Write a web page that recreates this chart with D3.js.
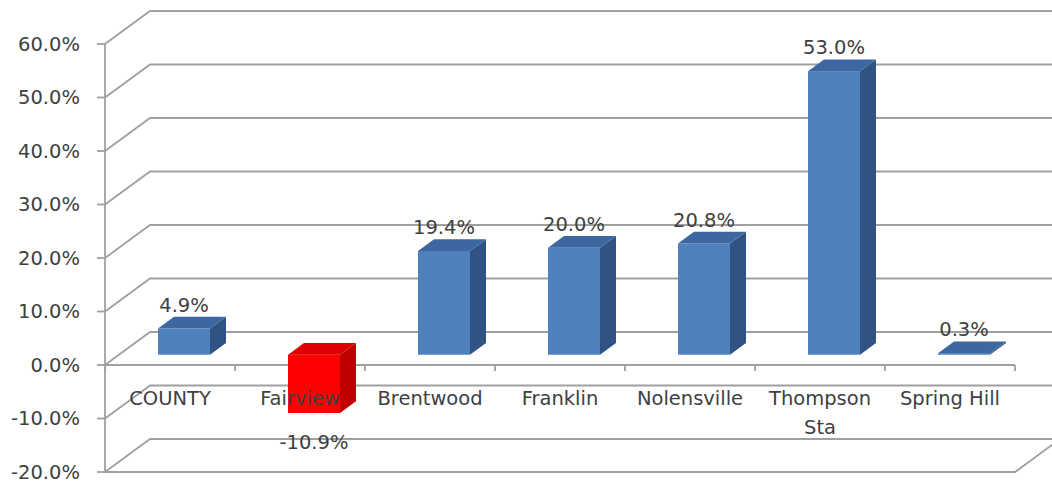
<!DOCTYPE html>
<html><head><meta charset="utf-8">
<script src="https://cdnjs.cloudflare.com/ajax/libs/d3/7.8.5/d3.min.js"></script>
<style>html,body{margin:0;padding:0;background:#fff;overflow:hidden}</style>
</head><body>
<svg id="c" width="1052" height="483"></svg>
<script>
const categories = ["COUNTY","Fairview","Brentwood","Franklin","Nolensville","Thompson Sta","Spring Hill"];
const values = [0.049,-0.109,0.194,0.200,0.208,0.530,0.003];
const highlight = ["Fairview"];
const yTicks = [-0.2,-0.1,0,0.1,0.2,0.3,0.4,0.5,0.6];

const svg = d3.select("#c");
const font = "DejaVu Sans";
const fs = 19.5;
const textColor = "#404040";
const gridColor = "#a0a0a0";

const y = d3.scaleLinear().domain([-0.2,0.6]).range([472,44]);
const x = d3.scaleBand().domain(categories).range([105,1015]).paddingInner(0).paddingOuter(0);
const bw = x.bandwidth();
// wall depth vector
const DX = 45, DY = -33;
const k = DY/DX;
const fmt0 = d3.format(".1%");
const fmt = v => fmt0(v).replace("\u2212","-");

// walls / gridlines
const g = svg.append("g").attr("stroke",gridColor).attr("stroke-width",1.8).attr("fill","none");
yTicks.forEach(t => {
  const yy = y(t);
  g.append("path").attr("d",`M105,${yy}L${105+DX},${yy+DY}L${1015+DX},${yy+DY}`);
});
// floor front edge
g.append("path").attr("d",`M105,${y(-0.2)}L1015,${y(-0.2)}L${1015+DX},${y(-0.2)+DY}`);
// left axis line
g.append("line").attr("x1",105).attr("x2",105).attr("y1",y(0.6)).attr("y2",y(-0.2));

// y ticks + labels
yTicks.forEach(t => {
  g.append("line").attr("x1",97).attr("x2",105).attr("y1",y(t)).attr("y2",y(t));
  svg.append("text").attr("x",80).attr("y",y(t)).attr("dy","0.35em")
    .attr("text-anchor","end").attr("font-family",font).attr("font-size",fs)
    .attr("fill",textColor).text(fmt(t));
});

// bars
const f0 = 14, bd = 16; // front depth offset & bar depth (x units)
const bars = svg.append("g");
categories.forEach((c,i) => {
  const v = values[i];
  const red = highlight.includes(c);
  const cf = red ? "#ff0000" : "#4f81bd";
  const cs = red ? "#c00000" : "#2f5382";
  const ct = red ? "#dc0000" : "#3c67a0";
  const x0 = x(c) + bw*0.3 + f0, x1 = x0 + bw*0.4;
  const oy = k*f0;
  const top = y(Math.max(v,0)) + oy, bot = y(Math.min(v,0)) + oy;
  const bx = bd, by = k*bd;
  bars.append("rect").attr("x",x0).attr("y",top).attr("width",x1-x0).attr("height",Math.max(bot-top,0.5)).attr("fill",cf);
  bars.append("path").attr("d",`M${x1},${top}L${x1+bx},${top+by}L${x1+bx},${bot+by}L${x1},${bot}Z`).attr("fill",cs);
  bars.append("path").attr("d",`M${x0},${top}L${x1},${top}L${x1+bx},${top+by}L${x0+bx},${top+by}Z`).attr("fill",ct);
  // value label
  const cx = (x0+x1)/2;
  const ly = v >= 0 ? top + by - 5 : bot + 36;
  svg.append("text").attr("x",cx).attr("y",ly).attr("text-anchor","middle")
    .attr("font-family",font).attr("font-size",fs).attr("fill",textColor).text(fmt(v));
});

// front category axis
g.append("line").attr("x1",105).attr("x2",1015).attr("y1",y(0)).attr("y2",y(0));
categories.concat([null]).forEach((c,i) => {
  const xx = 105 + i*bw;
  g.append("line").attr("x1",xx).attr("x2",xx).attr("y1",y(0)).attr("y2",y(0)+6);
});

// category labels
categories.forEach(c => {
  const t = svg.append("text").attr("text-anchor","middle").attr("font-family",font)
    .attr("font-size",fs).attr("fill",textColor);
  const cx = x(c) + bw/2;
  const words = c.split(" ");
  const lines = [];
  let cur = "";
  words.forEach(w => {
    const test = cur ? cur + " " + w : w;
    if (cur && test.length > 11) { lines.push(cur); cur = w; } else cur = test;
  });
  lines.push(cur);
  lines.forEach((l,j) => t.append("tspan").attr("x",cx).attr("y",405 + j*29).text(l));
});
</script>
</body></html>
